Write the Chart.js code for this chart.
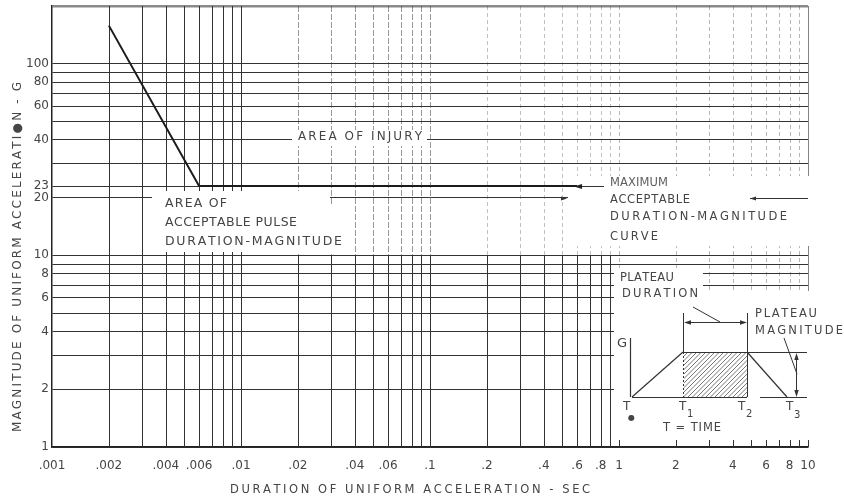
<!DOCTYPE html>
<html>
<head>
<meta charset="utf-8">
<script src="https://cdn.jsdelivr.net/npm/chart.js@4/dist/chart.umd.min.js"></script>
<style>
  html, body { margin: 0; padding: 0; background: #fff; }
  #c { display: block; }
</style>
</head>
<body>
<canvas id="c" width="844" height="502"></canvas>
<script>
// Maximum acceptable duration-magnitude curve (duration in s, plateau in G)
const curveDuration  = [0.002, 0.006, 0.6];
const curveMagnitude = [158, 23, 23];

// Labelled ticks
const xTickValues = [0.001, 0.002, 0.004, 0.006, 0.01, 0.02, 0.04, 0.06, 0.1, 0.2, 0.4, 0.6, 0.8, 1, 2, 4, 6, 8, 10];
const xTickText   = ['.001', '.002', '.004', '.006', '.01', '.02', '.04', '.06', '.1', '.2', '.4', '.6', '.8', '1', '2', '4', '6', '8', '10'];
const yTickValues = [1, 2, 4, 6, 8, 10, 20, 23, 40, 60, 80, 100];

// Log-paper rulings
const yGridValues  = [1, 2, 3, 4, 5, 6, 7, 8, 9, 10, 20, 23, 30, 40, 50, 60, 70, 80, 90, 100, 200];
const decadeSteps  = [1, 2, 3, 4, 5, 6, 7, 8, 9];
const decadeStarts = [0.001, 0.01, 0.1, 1];
const xGridValues  = decadeStarts.flatMap(d => decadeSteps.map(s => +(d * s).toPrecision(3))).concat([10]);

const FONT = '"DejaVu Sans", sans-serif';
const INK = '#333';
const TEXT = '#454545';

const same = (a, b) => Math.abs(a - b) <= 1e-9 * Math.max(1, Math.abs(b));

// Draws text spread evenly across a given width
function spreadText(ctx, text, x0, yc, width, size, color) {
  ctx.save();
  ctx.font = size + 'px ' + FONT;
  ctx.fillStyle = color;
  ctx.textBaseline = 'middle';
  ctx.textAlign = 'left';
  const chars = [...text];
  const ws = chars.map(c => ctx.measureText(c).width);
  const natural = ws.reduce((a, b) => a + b, 0);
  let gap = chars.length > 1 ? (width - natural) / (chars.length - 1) : 0;
  let sx = 1;
  if (gap < 0) { sx = width / natural; gap = 0; }
  ctx.translate(x0, yc);
  ctx.scale(sx, 1);
  let cx = 0;
  chars.forEach((c, i) => { ctx.fillText(c, cx, 0); cx += ws[i] + gap / sx; });
  ctx.restore();
}

function line(ctx, x1, y1, x2, y2, color, width, dash) {
  ctx.save();
  ctx.strokeStyle = color;
  ctx.lineWidth = width || 1;
  ctx.setLineDash(dash || []);
  ctx.beginPath();
  ctx.moveTo(x1, y1);
  ctx.lineTo(x2, y2);
  ctx.stroke();
  ctx.restore();
}

// Filled arrowhead with its tip at (tx, ty), pointing along (dx, dy)
function arrowHead(ctx, tx, ty, dx, dy, len, half, color) {
  const n = Math.hypot(dx, dy); dx /= n; dy /= n;
  ctx.save();
  ctx.fillStyle = color;
  ctx.beginPath();
  ctx.moveTo(tx, ty);
  ctx.lineTo(tx - dx * len - dy * half, ty - dy * len + dx * half);
  ctx.lineTo(tx - dx * len + dy * half, ty - dy * len - dx * half);
  ctx.closePath();
  ctx.fill();
  ctx.restore();
}

function whiteBox(ctx, x, y, w, h) {
  ctx.save();
  ctx.fillStyle = '#fff';
  ctx.fillRect(x, y, w, h);
  ctx.restore();
}

const sheetPlugin = {
  id: 'sheet',
  beforeDatasetsDraw(chart) {
    const { ctx, chartArea: a, scales: { x, y } } = chart;
    const y10 = y.getPixelForValue(10);
    const y65 = y.getPixelForValue(6.5);

    // vertical rulings: heavy on the left decade and the lower half, lighter elsewhere
    xGridValues.forEach(v => {
      if (same(v, 0.001)) return;
      const px = Math.round(x.getPixelForValue(v)) + 0.5;
      if (v <= 0.0100001) {
        line(ctx, px, a.top, px, a.bottom, INK, 1);
      } else if (v < 0.99) {
        line(ctx, px, y10, px, a.bottom, INK, 1);
        if (v <= 0.1000001) {
          line(ctx, px, a.top, px, y10, 'rgba(50,50,50,0.5)', 1, [6, 2]);
        } else {
          line(ctx, px, a.top, px, y10, 'rgba(50,50,50,0.3)', 1, [4, 3]);
        }
      } else if (v < 9.9) {
        line(ctx, px, a.top, px, y65, 'rgba(50,50,50,0.35)', 1, [4, 3]);
      } else {
        line(ctx, px, a.top, px, y65, 'rgba(50,50,50,0.6)', 1);
      }
    });

    // clear the paper behind the notes and the pulse sketch
    whiteBox(ctx, 292, 130, 135, 16);
    whiteBox(ctx, 152, 191, 178, 61);
    whiteBox(ctx, 152, 206, 197, 46);
    whiteBox(ctx, 568, 176, 260, 70);
    whiteBox(ctx, 614, 268, 89, 24);
    whiteBox(ctx, 614, 291, 230, a.bottom - 292);

    // ticks along the bottom edge of the last decade
    xGridValues.filter(v => v >= 0.99).forEach(v => {
      const px = Math.round(x.getPixelForValue(v)) + 0.5;
      line(ctx, px, a.bottom - 7, px, a.bottom, INK, 1);
    });

    // leaders to the curve note
    const y23 = Math.round(y.getPixelForValue(23)) + 0.5;
    const y20 = Math.round(y.getPixelForValue(20)) + 0.5;
    const xEnd = x.getPixelForValue(curveDuration[curveDuration.length - 1]);
    line(ctx, xEnd, y23, 604, y23, INK, 1);
    arrowHead(ctx, xEnd - 3, y23, -1, 0, 8, 2.5, '#222');
    line(ctx, 750, y20, x.getPixelForValue(10), y20, INK, 1);
    arrowHead(ctx, 750, y20, -1, 0, 6, 2, '#333');
    arrowHead(ctx, 567, y20, 1, 0, 6, 2, '#333');
  },
  afterDatasetsDraw(chart) {
    const { ctx } = chart;

    // notes on the chart
    spreadText(ctx, 'AREA OF INJURY', 298, 137, 124, 12, TEXT);

    spreadText(ctx, 'AREA OF', 165, 204, 62, 12.5, TEXT);
    spreadText(ctx, 'ACCEPTABLE PULSE', 165, 223, 132, 12.5, TEXT);
    spreadText(ctx, 'DURATION-MAGNITUDE', 165, 242, 177, 12.5, TEXT);

    spreadText(ctx, 'MAXIMUM', 610, 183, 58, 11.5, '#5e5e5e');
    spreadText(ctx, 'ACCEPTABLE', 610, 200, 80, 11.5, TEXT);
    spreadText(ctx, 'DURATION-MAGNITUDE', 610, 217, 177, 11.5, TEXT);
    spreadText(ctx, 'CURVE', 610, 237, 48, 11.5, TEXT);

    spreadText(ctx, 'PLATEAU', 620, 278, 54, 11.5, TEXT);
    spreadText(ctx, 'DURATION', 622, 294, 76, 11.5, TEXT);

    spreadText(ctx, 'PLATEAU', 755, 314, 62, 11.5, TEXT);
    spreadText(ctx, 'MAGNITUDE', 755, 331, 88, 11.5, TEXT);

    // trapezoidal pulse sketch
    const L = '#333';
    line(ctx, 630.5, 338, 630.5, 397, L, 1.2);
    line(ctx, 632, 397.5, 747, 397.5, L, 1.2);
    line(ctx, 760, 397.5, 807, 397.5, L, 1.2);
    line(ctx, 632, 397, 683, 352, L, 1.2);
    line(ctx, 683, 352.5, 747, 352.5, L, 1.2);
    line(ctx, 747, 352.5, 807, 352.5, L, 1);
    line(ctx, 747, 352, 787, 397, L, 1.2);
    line(ctx, 683.5, 313, 683.5, 352, L, 1);
    line(ctx, 683.5, 352, 683.5, 397, L, 1, [2, 2]);
    line(ctx, 747.5, 313, 747.5, 397, L, 1);

    // hatching of the plateau
    ctx.save();
    ctx.beginPath();
    ctx.rect(684, 353, 63, 44);
    ctx.clip();
    ctx.strokeStyle = '#555';
    ctx.lineWidth = 0.8;
    for (let k = -50; k < 70; k += 4.5) {
      ctx.beginPath();
      ctx.moveTo(684 + k, 397);
      ctx.lineTo(684 + k + 44, 353);
      ctx.stroke();
    }
    ctx.restore();

    // plateau duration dimension
    line(ctx, 686, 322.5, 744, 322.5, L, 1);
    arrowHead(ctx, 684, 322.5, -1, 0, 7, 2.2, L);
    arrowHead(ctx, 747, 322.5, 1, 0, 7, 2.2, L);
    line(ctx, 693, 307, 720, 322, L, 1);

    // plateau magnitude dimension
    line(ctx, 796.5, 355, 796.5, 395, L, 1);
    arrowHead(ctx, 796.5, 353, 0, -1, 7, 2.2, L);
    arrowHead(ctx, 796.5, 397, 0, 1, 7, 2.2, L);
    line(ctx, 784, 338, 797, 374, L, 1);

    // sketch labels
    ctx.save();
    ctx.fillStyle = TEXT;
    ctx.textBaseline = 'middle';
    ctx.textAlign = 'left';
    ctx.font = '13px ' + FONT;
    ctx.fillText('G', 617, 344);
    ctx.font = '12px ' + FONT;
    ctx.fillText('T', 623, 407);
    ctx.fillText('T', 679, 407);
    ctx.fillText('T', 738, 407);
    ctx.fillText('T', 786, 407);
    ctx.font = '10px ' + FONT;
    ctx.fillText('1', 687, 414);
    ctx.fillText('2', 746, 414);
    ctx.fillText('3', 794, 415);
    ctx.font = '8px ' + FONT;
    ctx.fillText('\u25CF', 628, 418);
    ctx.restore();
    spreadText(ctx, 'T = TIME', 663, 428, 58, 11.5, TEXT);

    // axis titles
    spreadText(ctx, 'DURATION OF UNIFORM ACCELERATION - SEC', 230, 490, 360, 11.5, TEXT);
    ctx.save();
    ctx.translate(18, 432);
    ctx.rotate(-Math.PI / 2);
    spreadText(ctx, 'MAGNITUDE OF UNIFORM ACCELERATI\u25CFN - G', 0, 0, 350, 12, TEXT);
    ctx.restore();
  }
};

new Chart(document.getElementById('c'), {
  type: 'line',
  data: {
    datasets: [{
      data: curveDuration.map((d, i) => ({ x: d, y: curveMagnitude[i] })),
      borderColor: '#1c1c1c',
      borderWidth: 2,
      pointRadius: 0,
      tension: 0,
      fill: false
    }]
  },
  options: {
    responsive: false,
    animation: false,
    devicePixelRatio: 1,
    layout: { padding: { top: 0, right: 36, left: 0, bottom: 0 } },
    plugins: { legend: { display: false }, tooltip: { enabled: false } },
    scales: {
      x: {
        type: 'logarithmic',
        min: 0.001,
        max: 10,
        afterBuildTicks: s => { s.ticks = xTickValues.map(v => ({ value: v })); },
        afterFit: s => { s.height = 55; },
        grid: { display: false },
        border: { display: true, color: '#222', width: 1.5 },
        ticks: {
          autoSkip: false,
          maxRotation: 0,
          minRotation: 0,
          padding: 4,
          color: TEXT,
          font: { family: FONT, size: 12 },
          callback: v => {
            const i = xTickValues.findIndex(t => same(t, v));
            return i >= 0 ? xTickText[i] : '';
          }
        }
      },
      y: {
        type: 'logarithmic',
        min: 1,
        max: 200,
        afterBuildTicks: s => { s.ticks = yGridValues.map(v => ({ value: v })); },
        afterFit: s => { s.width = 52; s.paddingTop = 6; },
        grid: {
          drawTicks: false,
          color: c => same(c.tick.value, 200) ? '#8a8a8a' : INK,
          lineWidth: c => same(c.tick.value, 200) ? 2.5 : 1
        },
        border: { display: true, color: '#222', width: 1.5 },
        ticks: {
          autoSkip: false,
          padding: 3,
          color: TEXT,
          font: { family: FONT, size: 12 },
          callback: v => yTickValues.some(t => same(t, v)) ? String(v) : ''
        }
      }
    }
  },
  plugins: [sheetPlugin]
});
</script>
</body>
</html>
